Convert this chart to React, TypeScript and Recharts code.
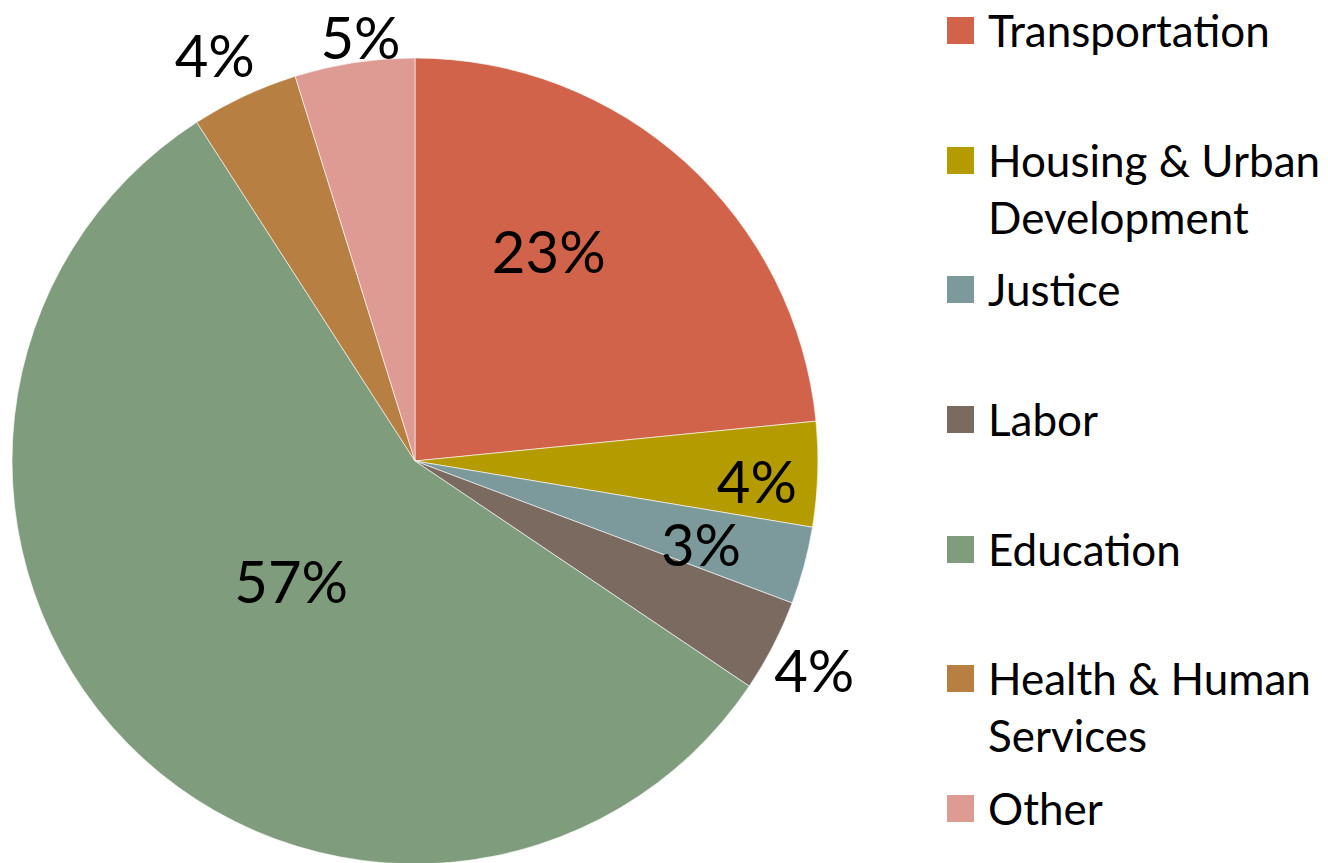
import React from 'react';
import { PieChart, Pie, Cell, Legend } from 'recharts';

const categories = [
  'Transportation',
  'Housing & Urban Development',
  'Justice',
  'Labor',
  'Education',
  'Health & Human Services',
  'Other',
];
const shares = [23.4, 4.2, 3.1, 3.7, 56.4, 4.3, 4.8];
const shareLabels = ['23%', '4%', '3%', '4%', '57%', '4%', '5%'];
const colors = ['#D1634A', '#B49C00', '#7C9A9C', '#7A6A60', '#7F9C7C', '#B87F42', '#DE9B93'];

// where each percent label sits: fraction of radius and angle nudge (deg)
const labelRadius = [0.615, 0.85, 0.74, 1.12, 0.43, 1.12, 1.058];
const labelNudge = [9.5, -1.7, -1.4, -0.5, 0, 1.3, -1.3];

const FONT = 'Lato, "Open Sans", sans-serif';
const RAD = Math.PI / 180;

const data = categories.map((name, i) => ({ name, value: shares[i] }));

function renderLabel(props: any) {
  const { cx, cy, midAngle, outerRadius, index } = props;
  const r = outerRadius * labelRadius[index];
  const a = (midAngle + labelNudge[index]) * RAD;
  const x = cx + r * Math.cos(-a);
  const y = cy + r * Math.sin(-a) - 2;
  return (
    <text
      x={x}
      y={y}
      fill="#000"
      textAnchor="middle"
      dominantBaseline="central"
      fontSize={58}
      fontFamily={FONT}
    >
      {shareLabels[index]}
    </text>
  );
}

function renderLegend() {
  return (
    <ul style={{ listStyle: 'none', margin: 0, padding: 0, fontFamily: FONT, fontSize: 44, color: '#000' }}>
      {categories.map((name, i) => (
        <li key={name} style={{ position: 'relative', height: 129.7, lineHeight: '57px' }}>
          <span
            style={{
              position: 'absolute',
              left: 0,
              top: 15,
              width: 27,
              height: 27,
              background: colors[i],
            }}
          />
          <div style={{ marginLeft: 41, width: 340 }}>{name}</div>
        </li>
      ))}
    </ul>
  );
}

export default function App() {
  return (
    <div style={{ width: 1328, height: 863, background: '#fff' }}>
      <style>{'body{margin:0}'}</style>
      <PieChart width={1328} height={863} margin={{ top: 0, right: 0, bottom: 0, left: 0 }}>
        <Pie
          data={data}
          dataKey="value"
          nameKey="name"
          cx={415}
          cy={461}
          outerRadius={403}
          startAngle={90}
          endAngle={-270}
          stroke="#fff"
          strokeWidth={0.6}
          label={renderLabel}
          labelLine={false}
          isAnimationActive={false}
        >
          {data.map((d, i) => (
            <Cell key={d.name} fill={colors[i]} />
          ))}
        </Pie>
        <Legend
          layout="vertical"
          verticalAlign="top"
          align="right"
          content={renderLegend}
          wrapperStyle={{ left: 947, top: 2, width: 381 }}
        />
      </PieChart>
    </div>
  );
}
